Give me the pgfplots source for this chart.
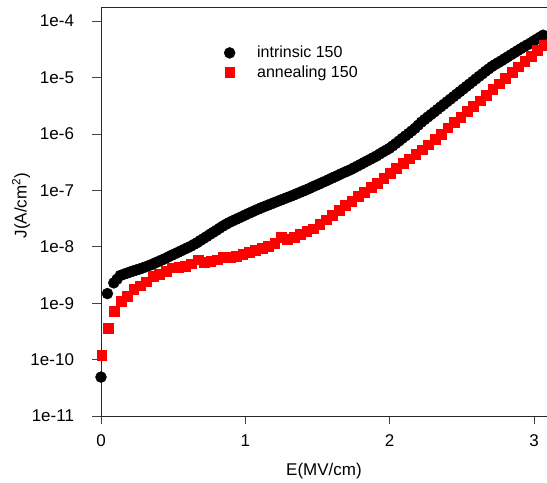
\documentclass[border=0pt]{standalone}
\usepackage{fontspec}
\setmainfont{Liberation Sans}
\usepackage{pgfplots}
\pgfplotsset{compat=1.18}
\usepackage{pgfplotstable}

\pgfplotstableread{
x y
0.0000 4.90e-11
0.0444 1.48e-9
0.0888 2.29e-9
0.1110 2.66e-9
0.1332 3.09e-9
0.1554 3.24e-9
0.1776 3.39e-9
0.1998 3.55e-9
0.2220 3.72e-9
0.2442 3.87e-9
0.2664 4.03e-9
0.2886 4.22e-9
0.3108 4.42e-9
0.3330 4.65e-9
0.3552 4.90e-9
0.3774 5.19e-9
0.3996 5.50e-9
0.4218 5.83e-9
0.4440 6.17e-9
0.4662 6.60e-9
0.4884 7.05e-9
0.5106 7.48e-9
0.5328 7.94e-9
0.5550 8.46e-9
0.5772 9.02e-9
0.5994 9.59e-9
0.6216 1.02e-8
0.6438 1.10e-8
0.6660 1.18e-8
0.6882 1.29e-8
0.7104 1.40e-8
0.7326 1.52e-8
0.7548 1.66e-8
0.7770 1.80e-8
0.7992 1.95e-8
0.8214 2.13e-8
0.8436 2.32e-8
0.8658 2.50e-8
0.8880 2.69e-8
0.9102 2.86e-8
0.9324 3.04e-8
0.9546 3.23e-8
0.9768 3.43e-8
0.9990 3.65e-8
1.0212 3.89e-8
1.0434 4.12e-8
1.0656 4.37e-8
1.0878 4.63e-8
1.1100 4.90e-8
1.1322 5.16e-8
1.1544 5.43e-8
1.1766 5.72e-8
1.1988 6.03e-8
1.2210 6.35e-8
1.2432 6.68e-8
1.2654 7.04e-8
1.2876 7.41e-8
1.3098 7.79e-8
1.3320 8.20e-8
1.3542 8.67e-8
1.3764 9.16e-8
1.3986 9.67e-8
1.4208 1.02e-7
1.4430 1.08e-7
1.4652 1.15e-7
1.4874 1.22e-7
1.5096 1.29e-7
1.5318 1.37e-7
1.5540 1.45e-7
1.5762 1.54e-7
1.5984 1.64e-7
1.6206 1.74e-7
1.6428 1.85e-7
1.6650 1.97e-7
1.6872 2.09e-7
1.7094 2.21e-7
1.7316 2.34e-7
1.7538 2.51e-7
1.7760 2.69e-7
1.7982 2.88e-7
1.8204 3.09e-7
1.8426 3.31e-7
1.8648 3.55e-7
1.8870 3.80e-7
1.9092 4.07e-7
1.9314 4.42e-7
1.9536 4.79e-7
1.9758 5.16e-7
1.9980 5.56e-7
2.0202 6.13e-7
2.0424 6.76e-7
2.0646 7.50e-7
2.0868 8.32e-7
2.1090 9.21e-7
2.1312 1.02e-6
2.1534 1.13e-6
2.1756 1.26e-6
2.1978 1.43e-6
2.2200 1.62e-6
2.2422 1.80e-6
2.2644 2.00e-6
2.2866 2.21e-6
2.3088 2.45e-6
2.3310 2.72e-6
2.3532 3.02e-6
2.3754 3.35e-6
2.3976 3.72e-6
2.4198 4.12e-6
2.4420 4.57e-6
2.4642 5.07e-6
2.4864 5.62e-6
2.5086 6.24e-6
2.5308 6.92e-6
2.5530 7.67e-6
2.5752 8.51e-6
2.5974 9.45e-6
2.6196 1.05e-5
2.6418 1.16e-5
2.6640 1.29e-5
2.6862 1.42e-5
2.7084 1.57e-5
2.7306 1.70e-5
2.7528 1.84e-5
2.7750 1.99e-5
2.7972 2.16e-5
2.8194 2.34e-5
2.8416 2.54e-5
2.8638 2.76e-5
2.8860 2.99e-5
2.9082 3.24e-5
2.9304 3.51e-5
2.9526 3.78e-5
2.9748 4.07e-5
2.9970 4.42e-5
3.0192 4.79e-5
3.0414 5.19e-5
3.0636 5.62e-5
}\intrinsic

\pgfplotstableread{
x y
0.0050 1.20e-10
0.0494 3.55e-10
0.0938 7.24e-10
0.1382 1.07e-9
0.1826 1.35e-9
0.2270 1.78e-9
0.2714 2.04e-9
0.3158 2.40e-9
0.3602 3.02e-9
0.4046 3.24e-9
0.4490 3.63e-9
0.4934 4.27e-9
0.5378 4.37e-9
0.5822 4.57e-9
0.6266 5.01e-9
0.6710 5.89e-9
0.7154 5.37e-9
0.7598 5.62e-9
0.8042 5.89e-9
0.8486 6.46e-9
0.8930 6.61e-9
0.9374 6.84e-9
0.9818 7.41e-9
1.0262 8.04e-9
1.0706 8.71e-9
1.1150 9.33e-9
1.1594 1.02e-8
1.2038 1.17e-8
1.2482 1.48e-8
1.2926 1.38e-8
1.3370 1.48e-8
1.3814 1.66e-8
1.4258 1.86e-8
1.4702 2.09e-8
1.5146 2.51e-8
1.5590 3.02e-8
1.6034 3.63e-8
1.6478 4.47e-8
1.6922 5.37e-8
1.7366 6.46e-8
1.7810 7.76e-8
1.8254 9.33e-8
1.8698 1.12e-7
1.9142 1.35e-7
1.9586 1.62e-7
2.0030 2.00e-7
2.0474 2.45e-7
2.0918 3.02e-7
2.1362 3.63e-7
2.1806 4.37e-7
2.2250 5.25e-7
2.2694 6.46e-7
2.3138 8.13e-7
2.3582 1.00e-6
2.4026 1.29e-6
2.4470 1.62e-6
2.4914 2.00e-6
2.5358 2.51e-6
2.5802 3.09e-6
2.6246 3.89e-6
2.6690 4.90e-6
2.7134 6.17e-6
2.7578 7.76e-6
2.8022 9.77e-6
2.8466 1.23e-5
2.8910 1.55e-5
2.9354 1.95e-5
2.9798 2.40e-5
3.0242 3.02e-5
3.0686 3.80e-5
}\annealing

\begin{document}
\begin{tikzpicture}[font=\fontsize{17bp}{20bp}\selectfont]
\begin{axis}[
  scale only axis, width=446bp, height=409bp,
  ymode=log, xmin=0, xmax=3.09, ymin=1e-11, ymax=1.778e-4,
  axis x line*=bottom, axis y line*=left,
  axis line style={-, line width=0.8bp, black!85},
  tick align=outside, major tick length=8.5bp,
  tick style={line width=0.8bp, black!75},
  xtick={0,1,2,3}, xticklabels={0,1,2,3},
  ytick={1e-11,1e-10,1e-9,1e-8,1e-7,1e-6,1e-5,1e-4},
  yticklabels={1e-11,1e-10,1e-9,1e-8,1e-7,1e-6,1e-5,1e-4},
  yminorticks=false,
  /pgf/number format/assume math mode=true,
  yticklabel style={xshift=-15bp},
  xticklabel style={yshift=-7bp},
  clip=false,
  xlabel={E(MV/cm)}, ylabel={J(A/cm\textsuperscript{2})},
  every axis x label/.style={at={(axis description cs:0.5,-0.135)}, anchor=center},
  every axis y label/.style={at={(axis description cs:-0.1794,0.5147)}, rotate=90, anchor=center},
  legend style={draw=none, fill=none, font=\fontsize{16bp}{19bp}\selectfont,
    at={(axis description cs:0.269,0.914)}, anchor=north west,
    row sep=2bp,
    /tikz/every odd column/.append style={column sep=20bp}},
  legend cell align=left,
]
\draw[line width=0.8bp, black!85] (rel axis cs:0,1) -- (rel axis cs:1,1);
\addplot[only marks, mark=*, mark size=5.5bp, black] table[x=x,y=y] {\intrinsic};
\addlegendentry{intrinsic 150}
\addplot[only marks, mark=square*, mark size=4.9bp, red] table[x=x,y=y] {\annealing};
\addlegendentry{annealing 150}
\end{axis}
\pgfresetboundingbox
\path (-101bp,-67bp) rectangle (446bp,416bp);
\end{tikzpicture}
\end{document}
